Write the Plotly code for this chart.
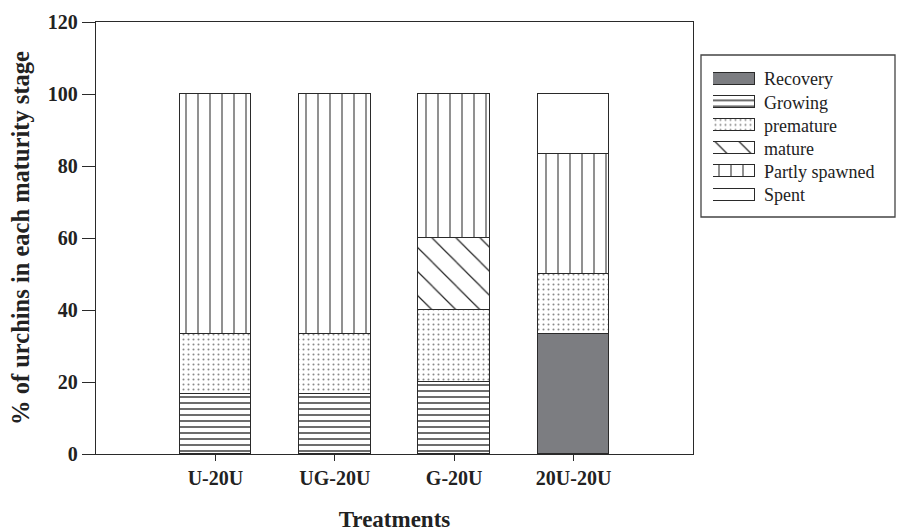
import plotly.graph_objects as go

# Treatments and maturity-stage composition (% of urchins)
treatments = ["U-20U", "UG-20U", "G-20U", "20U-20U"]
stages = ["Recovery", "Growing", "premature", "mature", "Partly spawned", "Spent"]

recovery = [None, None, None, 33.3]
growing = [16.7, 16.7, 20.0, None]
premature = [16.6, 16.6, 20.0, 16.7]
mature = [None, None, 20.0, None]
partly_spawned = [66.7, 66.7, 40.0, 33.3]
spent = [None, None, None, 16.7]

y_ticks = [0, 20, 40, 60, 80, 100, 120]

series = [recovery, growing, premature, mature, partly_spawned, spent]

FONT = "Liberation Serif"
EDGE = "#2a2a2a"

# fill style for each stage: (marker colour, pattern shape, size, solidity, pattern colour)
styles = {
    "Recovery": ("#7c7d81", "", 8, 0.3, "#000"),
    "Growing": ("white", "-", 6, 0.24, "#333"),
    "premature": ("white", ".", 5, 0.13, "#8a8a8a"),
    "mature": ("white", "\\", 17, 0.07, "#222"),
    "Partly spawned": ("white", "|", 12, 0.09, "#333"),
    "Spent": ("white", "", 8, 0.3, "#000"),
}


def marker_for(stage):
    color, shape, size, solidity, fg = styles[stage]
    m = dict(color=color, line=dict(color=EDGE, width=1.2))
    if shape:
        m["pattern"] = dict(shape=shape, size=size, solidity=solidity,
                            fgcolor=fg, bgcolor="white", fillmode="replace")
    return m


fig = go.Figure()

# stacked bars
for stage, vals in zip(stages, series):
    fig.add_trace(go.Bar(
        x=list(range(len(treatments))), y=vals, name=stage,
        width=0.6, marker=marker_for(stage), showlegend=False,
        hoverinfo="skip",
    ))

# legend swatches on a small auxiliary axis pair
swatch_len = [1] * len(stages)
for i, stage in enumerate(stages):
    fig.add_trace(go.Bar(
        x=[swatch_len[i]], y=[i], orientation="h", width=0.52,
        marker=marker_for(stage), xaxis="x2", yaxis="y2",
        showlegend=False, hoverinfo="skip",
    ))

plot_w = 898 - 96 - 3
main_frac = 597 / plot_w

fig.update_layout(
    width=898, height=532,
    margin=dict(l=96, r=3, t=22, b=78),
    paper_bgcolor="white", plot_bgcolor="white",
    barmode="stack", bargap=0,
    font=dict(family=FONT, color="#222"),
    xaxis=dict(
        domain=[0, main_frac], range=[-1, 4],
        tickvals=list(range(len(treatments))), ticktext=treatments,
        ticks="outside", ticklen=6, tickcolor=EDGE, tickwidth=1.2,
        showline=True, linecolor=EDGE, linewidth=1.3, mirror=True,
        showgrid=False, zeroline=False,
        tickfont=dict(family=FONT, size=20, color="#222", weight="bold"),
        title=dict(text="<b>Treatments</b>", standoff=22,
                   font=dict(family=FONT, size=23, color="#222")),
    ),
    yaxis=dict(
        range=[0, 120], tickvals=y_ticks,
        ticks="outside", ticklen=13, tickcolor=EDGE, tickwidth=1.2,
        showline=True, linecolor=EDGE, linewidth=1.3, mirror=True,
        showgrid=False, zeroline=False,
        tickfont=dict(family=FONT, size=20, color="#222", weight="bold"),
        title=dict(text="<b>% of urchins in each maturity stage</b>", standoff=11,
                   font=dict(family=FONT, size=24.5, color="#222")),
    ),
    xaxis2=dict(
        domain=[(713 - 96) / plot_w, (755 - 96) / plot_w], range=[0, 1],
        anchor="y2", visible=False, fixedrange=True,
    ),
    yaxis2=dict(
        domain=[(454 - 206.6) / 432, (454 - 67.4) / 432], range=[5.5, -0.5],
        anchor="x2", side="right", tickvals=list(range(len(stages))),
        ticktext=stages, ticks="", showline=False, showgrid=False,
        zeroline=False, ticklabelstandoff=8,
        tickfont=dict(family=FONT, size=18, color="#222"),
    ),
    shapes=[dict(
        type="rect", xref="paper", yref="paper",
        x0=(701 - 96) / plot_w, x1=(895 - 96) / plot_w,
        y0=(454 - 217) / 432, y1=(454 - 55) / 432,
        line=dict(color="#444", width=1.3), fillcolor="rgba(0,0,0,0)",
        layer="below",
    )],
)

fig.write_html("out.html")
